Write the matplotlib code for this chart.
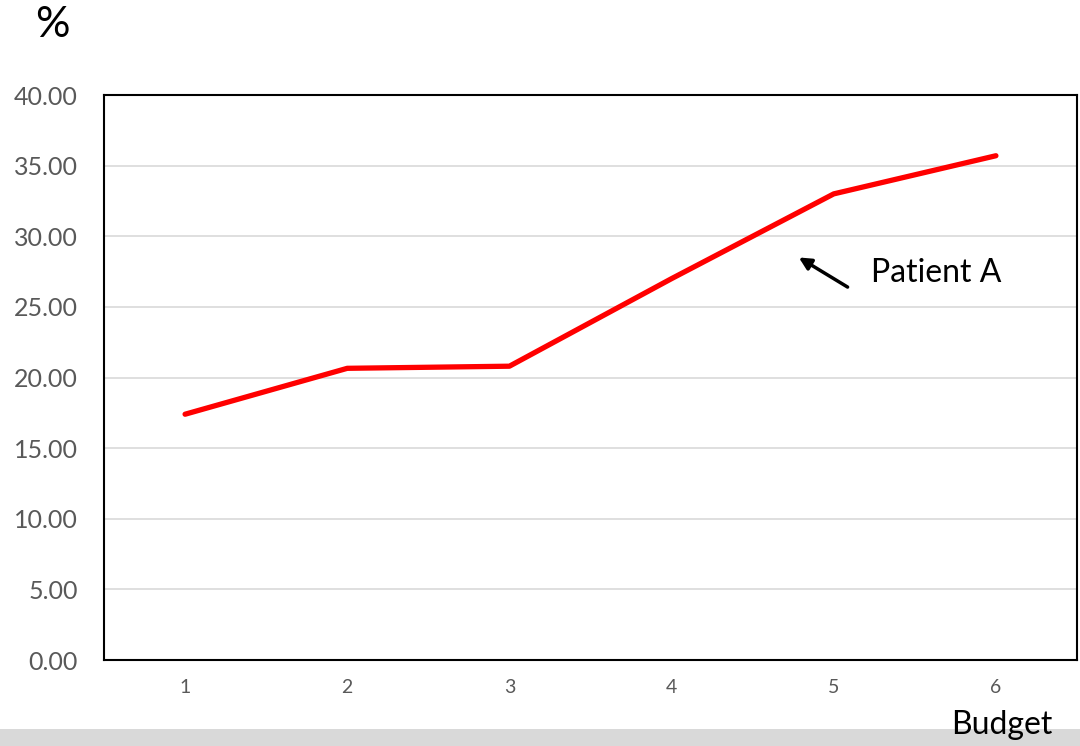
import matplotlib.pyplot as plt
from matplotlib.patches import Rectangle

plt.rcParams['font.family'] = ['Lato', 'DejaVu Sans']

# data
budget = [1, 2, 3, 4, 5, 6]
percent = [17.4, 20.65, 20.8, 27.0, 33.0, 35.7]
ytick_vals = [0, 5, 10, 15, 20, 25, 30, 35, 40]

fig = plt.figure(figsize=(10.8, 7.46), dpi=100)
# gray strip along the bottom
fig.patches.append(Rectangle((0, 0), 1, 17 / 746, transform=fig.transFigure,
                             facecolor='#d9d9d9', edgecolor='none', zorder=0))

ax = fig.add_axes([104 / 1080, 86 / 746, 973 / 1080, 565 / 746])
ax.plot(budget, percent, color='#ff0000', lw=3.8, solid_capstyle='round',
        solid_joinstyle='round', zorder=3)

ax.set_xlim(0.5, 6.5)
ax.set_ylim(0, 40)
ax.set_yticks(ytick_vals)
ax.set_yticklabels(['%.2f' % v for v in ytick_vals])
ax.set_xticks(budget)
ax.set_xticklabels([str(b) for b in budget])
ax.yaxis.grid(True, color='#d9d9d9', lw=1.2)
ax.set_axisbelow(True)
ax.tick_params(axis='both', length=0, colors='#595959')
ax.tick_params(axis='y', labelsize=18, pad=19)
ax.tick_params(axis='x', labelsize=14, pad=14)
for s in ax.spines.values():
    s.set_color('black')
    s.set_linewidth(1.5)

ax.annotate('', xy=(4.77, 28.6), xytext=(5.1, 26.3),
            arrowprops=dict(arrowstyle='-|>', color='black', lw=2.5,
                            mutation_scale=18))
ax.text(5.23, 27.4, 'Patient A', fontsize=23, va='center', ha='left',
        color='black')

fig.text(52 / 1080, 1 - 25 / 746, '%', fontsize=31, ha='center', va='center')
fig.text(1002 / 1080, 1 - 725 / 746, 'Budget', fontsize=23, ha='center',
         va='center')

fig.savefig('out.png', dpi=100)
